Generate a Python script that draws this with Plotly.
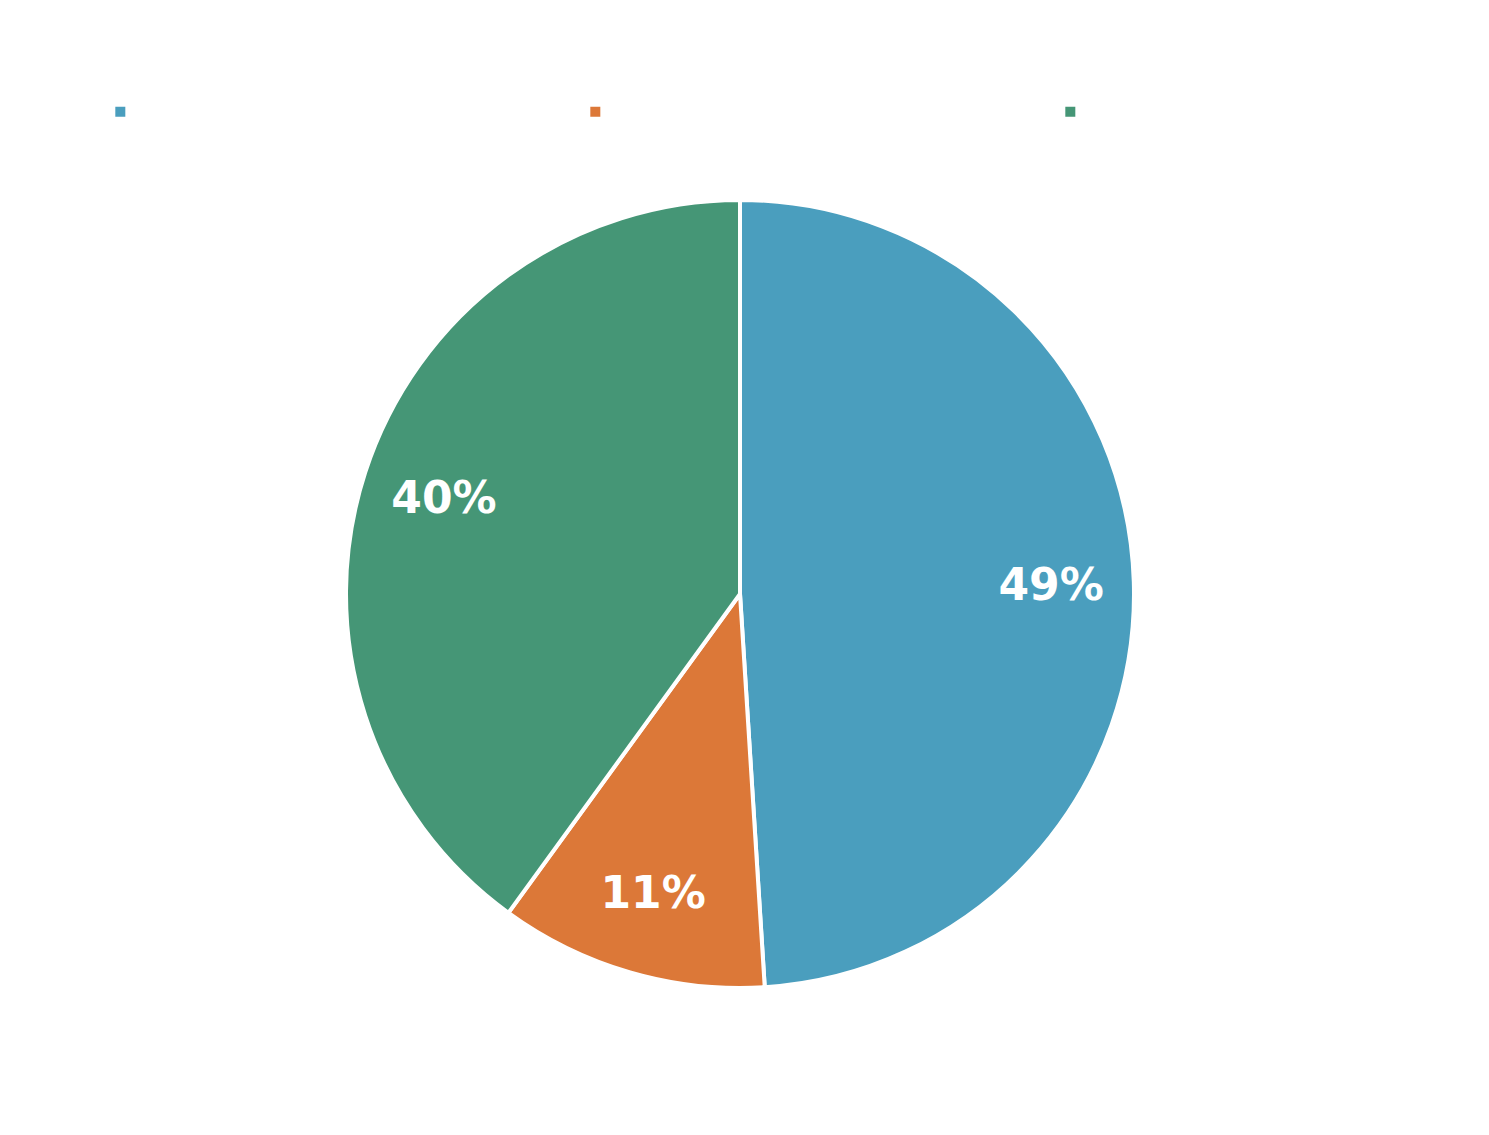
import plotly.graph_objects as go

labels = ['Business Process Improvement', 'ICT will solve my problems', 'Awareness of benefits']
values = [49, 11, 40]
colors = ['#4A9EBE', '#DC7838', '#459676']

fig = go.Figure()

# main pie: slices + legend
fig.add_trace(go.Pie(
    labels=labels,
    values=values,
    sort=False,
    direction='clockwise',
    rotation=0,
    marker=dict(colors=colors, line=dict(color='white', width=4)),
    textinfo='none',
    hoverinfo='label+percent'
))

# transparent ring on top just to push the percent labels outward
fig.add_trace(go.Pie(
    labels=labels,
    values=values,
    sort=False,
    direction='clockwise',
    rotation=0,
    hole=0.58,
    showlegend=False,
    marker=dict(colors=['rgba(0,0,0,0)'] * 3, line=dict(width=0)),
    texttemplate='%{percent:.0%}',
    textposition='inside',
    insidetextorientation='horizontal',
    textfont=dict(family='DejaVu Sans', size=44, color='white', weight='bold'),
    hoverinfo='skip'
))

fig.update_layout(
    width=1489,
    height=1135,
    paper_bgcolor='white',
    plot_bgcolor='white',
    margin=dict(l=0, r=25, t=192, b=155),
    showlegend=True,
    legend=dict(
        orientation='h',
        xref='container',
        yref='container',
        x=0.062,
        xanchor='left',
        y=1 - 104 / 1135,
        yanchor='middle',
        font=dict(family='Open Sans', size=22, color='white'),
        entrywidth=430,
        entrywidthmode='pixels',
        itemsizing='constant'
    )
)

fig.write_html("out.html")
